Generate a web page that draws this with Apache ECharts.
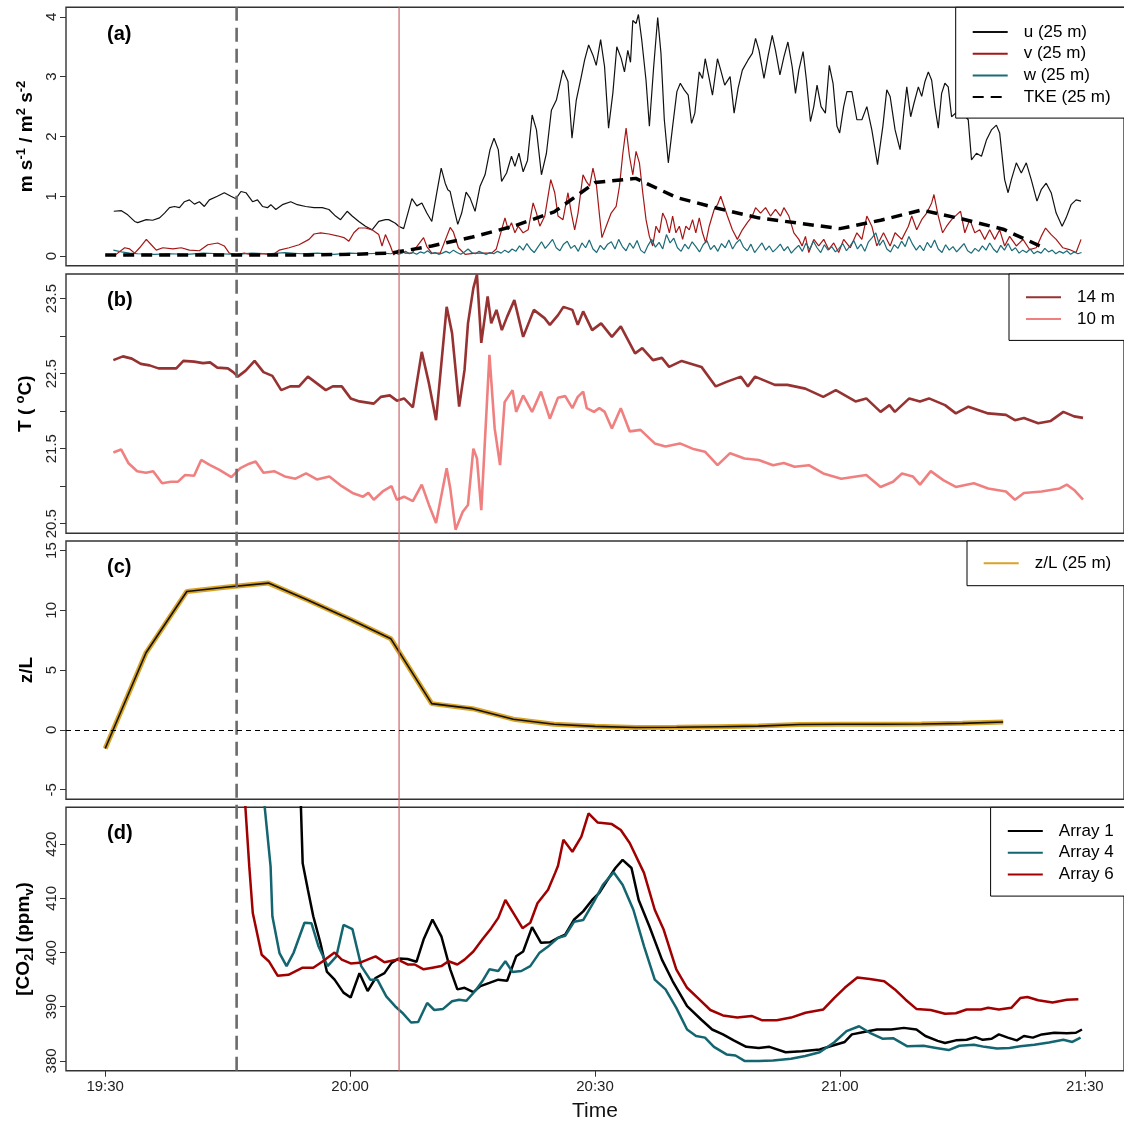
<!DOCTYPE html>
<html><head><meta charset="utf-8">
<script src="https://cdn.jsdelivr.net/npm/echarts@6/dist/echarts.min.js"></script>
<style>html,body{margin:0;padding:0;background:#fff}#c{width:1124px;height:1124px}</style>
</head><body><div id="c"></div>
<script>
// time axis: minutes after 19:00
const xTicks = [30, 60, 90, 120, 150];
const xTickLabels = ['19:30', '20:00', '20:30', '21:00', '21:30'];
const xRange = [25.2, 154.8];
const dashedMarker = 46.1;   // 19:46
const redMarker = 66.0;      // 20:06

// (a) wind components & TKE
const uData = [[31.05,0.75],[31.99,0.76],[32.76,0.69],[33.61,0.58],[33.98,0.56],[35.04,0.61],[35.81,0.60],[36.66,0.64],[37.27,0.72],[37.88,0.81],[38.49,0.83],[39.1,0.81],[39.71,0.91],[40.32,0.94],[40.93,0.87],[41.54,0.91],[42.15,0.83],[42.76,0.94],[43.74,1.00],[44.59,1.06],[45.41,1.00],[46.02,0.96],[46.63,1.08],[47.24,1.06],[48.05,0.91],[48.66,0.94],[49.27,0.83],[49.88,0.81],[50.29,0.86],[50.9,0.78],[51.71,0.86],[52.73,0.91],[53.54,0.86],[54.56,0.83],[55.58,0.81],[56.59,0.81],[57.41,0.78],[58.22,0.67],[58.83,0.61],[59.64,0.75],[60.25,0.67],[61.07,0.58],[61.88,0.50],[62.69,0.44],[63.51,0.58],[64.33,0.61],[64.73,0.61],[65.55,0.55],
[65.95,0.50],[66.56,0.46],[67.57,0.96],[68.18,0.84],[68.79,0.89],[69.4,0.72],[70.01,0.58],[70.62,1.06],[71.16,1.47],[71.65,1.22],[71.97,1.11],[72.26,1.08],[72.66,0.83],[73.19,0.53],[73.67,0.72],[74.21,1.07],[74.7,0.97],[75.31,0.75],[75.92,1.17],[76.53,1.36],[77.14,1.78],[77.63,1.97],[78.15,1.78],[78.56,1.25],[79.17,1.39],[79.77,1.67],[80.19,1.50],[80.68,1.72],[81.2,1.41],[81.73,1.60],[82.3,2.36],[82.83,2.11],[83.44,1.36],[84.05,1.72],[84.66,2.44],[85.27,2.61],[86.08,3.11],[86.69,2.92],[87.18,1.97],[87.71,2.61],[88.32,3.00],[88.73,3.28],[89.22,3.53],[89.75,3.36],[90.15,3.19],[90.69,3.62],[91.17,3.17],[91.66,2.14],[92.19,2.73],[92.67,3.50],[93.2,3.31],[93.61,3.08],[94.02,3.44],[94.35,3.24],[94.63,3.94],[95.03,3.89],[95.32,4.04],[95.73,3.61],[96.25,2.94],[96.66,2.17],[97.19,3.17],[97.68,3.99],[98.08,3.39],[98.49,2.28],[98.98,1.56],[99.51,2.17],[100.03,2.75],[100.45,2.89],[100.93,2.78],[101.42,2.69],[101.83,2.22],[102.23,2.39],[102.77,3.08],[103.17,2.97],[103.5,3.30],[103.9,3.03],[104.39,2.69],[105.0,3.30],[105.4,3.11],[105.89,2.86],[106.55,3.00],[107.04,2.39],[107.53,2.81],[108.05,3.11],[108.75,3.28],[109.27,3.39],[109.67,3.64],[110.09,3.44],[110.7,2.97],[111.22,3.36],[111.71,3.69],[112.11,3.44],[112.65,3.03],[113.14,3.33],[113.63,3.58],[114.15,3.17],[114.56,2.72],[114.97,3.11],[115.49,3.42],[115.9,2.94],[116.39,2.25],[116.8,2.50],[117.2,2.86],[117.69,2.50],[118.22,2.39],[118.7,3.19],[119.16,2.89],[119.64,2.17],[119.97,2.06],[120.46,2.50],[120.86,2.75],[121.47,2.75],[122.08,2.28],[122.69,2.28],[123.3,2.50],[123.91,2.11],[124.61,1.53],[125.26,2.17],[125.74,2.78],[126.15,2.67],[126.76,2.11],[127.37,1.78],[127.78,2.33],[128.19,2.83],[128.67,2.33],[129.08,2.56],[129.61,2.83],[130.02,2.67],[130.42,2.92],[130.83,3.08],[131.24,2.94],[131.64,2.50],[132.05,2.14],[132.46,2.72],[132.86,2.89],[133.27,2.83],[133.68,2.33],[134.65,2.45],[135.72,2.28],[136.12,1.61],[136.73,1.72],[137.34,1.67],[137.95,1.94],[138.56,2.11],[139.17,2.19],[139.57,2.06],[140.18,1.28],[140.6,1.06],[141.0,1.28],[141.61,1.56],[142.22,1.39],[142.83,1.56],[143.44,1.28],[144.14,0.92],[144.66,1.11],[145.27,1.22],[145.88,1.06],[146.49,0.72],[147.22,0.50],[147.71,0.64],[148.32,0.86],[148.93,0.94],[149.54,0.92]];
const vData = [[31.05,0.0],[32.39,0.14],[33.0,0.12],[33.61,0.05],[34.22,0.14],[35.04,0.28],[35.65,0.19],[36.26,0.10],[37.07,0.14],[38.29,0.12],[39.31,0.14],[40.32,0.10],[41.54,0.09],[42.56,0.19],[43.78,0.22],[44.59,0.17],[45.2,0.05],[46.02,0.02],[47.03,0.05],[48.05,0.02],[49.27,0.04],[50.49,0.02],[51.31,0.10],[52.53,0.14],[53.75,0.19],[54.97,0.28],[55.58,0.37],[56.39,0.39],[57.41,0.37],[58.42,0.34],[59.24,0.31],[59.85,0.25],[60.46,0.39],[61.07,0.47],[61.88,0.47],[62.69,0.44],[63.51,0.36],[63.91,0.17],[64.33,0.36],[64.94,0.17],[65.34,0.02],
[65.95,0.11],[66.77,0.05],[67.57,0.05],[69.0,0.31],[69.4,0.16],[70.01,0.05],[71.04,0.05],[72.26,0.48],[72.66,0.40],[73.27,0.14],[74.09,0.03],[75.31,0.05],[76.53,0.05],[77.34,0.05],[77.91,0.12],[78.56,0.44],[78.97,0.64],[79.37,0.44],[79.77,0.56],[80.19,0.39],[80.59,0.50],[81.2,0.39],[81.81,0.44],[82.42,0.89],[82.83,0.72],[83.24,0.50],[83.85,0.67],[84.58,1.28],[85.07,1.06],[85.47,0.67],[86.08,0.61],[86.69,1.06],[87.1,0.72],[87.51,0.44],[87.92,0.72],[88.53,1.36],[88.93,1.25],[89.34,1.17],[89.75,1.47],[90.15,1.22],[90.56,0.67],[90.85,0.31],[91.37,0.50],[91.98,0.72],[92.59,0.83],[93.0,1.17],[93.41,1.72],[93.81,2.14],[94.22,1.67],[94.63,1.36],[95.03,1.75],[95.44,1.56],[95.85,1.06],[96.25,0.61],[96.66,0.33],[97.07,0.17],[97.47,0.50],[97.89,0.39],[98.29,0.72],[98.69,0.61],[99.11,0.39],[99.51,0.67],[99.91,0.39],[100.33,0.50],[100.73,0.28],[101.13,0.50],[101.55,0.44],[101.95,0.61],[102.35,0.39],[102.77,0.64],[103.17,0.39],[103.57,0.22],[103.99,0.50],[104.6,0.78],[105.0,0.86],[105.4,1.00],[105.82,0.83],[106.22,0.67],[106.83,0.44],[107.44,0.28],[108.05,0.44],[108.66,0.56],[109.27,0.67],[109.67,0.81],[110.28,0.72],[110.89,0.81],[111.5,0.67],[112.11,0.78],[112.72,0.67],[113.14,0.81],[113.75,0.67],[114.36,0.39],[114.97,0.28],[115.37,0.17],[115.78,0.33],[116.19,0.06],[116.8,0.28],[117.41,0.17],[118.02,0.28],[118.63,0.11],[119.24,0.22],[119.85,0.06],[120.46,0.28],[121.27,0.14],[122.08,0.39],[122.69,0.28],[123.3,0.67],[123.91,0.50],[124.52,0.17],[125.34,0.39],[126.15,0.17],[126.76,0.39],[127.58,0.28],[128.39,0.50],[128.8,0.67],[129.41,0.44],[130.02,0.61],[130.63,0.72],[131.24,0.89],[131.52,1.03],[132.05,0.67],[132.58,0.39],[133.07,0.50],[133.68,0.61],[134.29,0.69],[134.78,0.75],[135.3,0.39],[135.91,0.61],[136.52,0.39],[137.13,0.44],[137.74,0.28],[138.35,0.44],[138.96,0.28],[139.57,0.44],[140.18,0.17],[140.79,0.33],[141.61,0.17],[142.43,0.28],[143.23,0.11],[144.05,0.14],[144.66,0.33],[145.19,0.47],[145.88,0.36],[146.49,0.28],[147.31,0.14],[148.11,0.11],[148.93,0.06],[149.54,0.28]];
const wData = [[31.0,0.10],[32,0.07],[33,0.05],[34,0.04],[36,0.03],[38,0.04],[40,0.03],[42,0.05],[44,0.04],[46,0.03],[48,0.05],[50,0.04],[52,0.06],[54,0.04],[56,0.05],[58,0.03],[60,0.05],[62,0.04],[64,0.05],
[65.0,0.04],[65.45,0.06],[65.9,0.03],[66.35,0.05],[66.8,0.08],[67.25,0.04],[67.7,0.06],[68.15,0.03],[68.6,0.07],[69.05,0.05],[69.5,0.09],[69.95,0.04],[70.4,0.06],[70.85,0.03],[71.3,0.05],[71.75,0.08],[72.2,0.05],[72.65,0.10],[73.1,0.06],[73.55,0.03],[74.0,0.07],[74.45,0.12],[74.9,0.06],[75.35,0.04],[75.8,0.08],[76.25,0.05],[76.7,0.03],[77.15,0.06],[77.6,0.04],[78.05,0.08],[78.5,0.05],[78.95,0.10],[79.4,0.06],[79.85,0.12],[80.3,0.08],[80.75,0.17],[81.2,0.10],[81.65,0.21],[82.1,0.12],[82.55,0.06],[83.0,0.15],[83.45,0.24],[83.9,0.13],[84.35,0.20],[84.8,0.28],[85.25,0.14],[85.7,0.09],[86.15,0.20],[86.6,0.25],[87.05,0.13],[87.5,0.18],[87.95,0.08],[88.4,0.22],[88.85,0.14],[89.3,0.27],[89.75,0.12],[90.2,0.06],[90.65,0.18],[91.1,0.11],[91.55,0.20],[92.0,0.24],[92.45,0.12],[92.9,0.28],[93.35,0.16],[93.8,0.09],[94.25,0.22],[94.7,0.13],[95.15,0.26],[95.6,0.10],[96.05,0.05],[96.5,0.18],[96.95,0.28],[97.4,0.15],[97.85,0.23],[98.3,0.12],[98.75,0.36],[99.2,0.22],[99.65,0.30],[100.1,0.14],[100.55,0.08],[101.0,0.20],[101.45,0.12],[101.9,0.24],[102.35,0.16],[102.8,0.07],[103.25,0.19],[103.7,0.26],[104.15,0.11],[104.6,0.18],[105.05,0.08],[105.5,0.21],[105.95,0.14],[106.4,0.27],[106.85,0.12],[107.3,0.22],[107.75,0.28],[108.2,0.15],[108.65,0.09],[109.1,0.20],[109.55,0.06],[110.0,0.14],[110.45,0.22],[110.9,0.10],[111.35,0.17],[111.8,0.07],[112.25,0.13],[112.7,0.20],[113.15,0.09],[113.6,0.16],[114.05,0.05],[114.5,0.12],[114.95,0.18],[115.4,0.08],[115.85,0.22],[116.3,0.11],[116.75,0.25],[117.2,0.14],[117.65,0.06],[118.1,0.19],[118.55,0.10],[119.0,0.16],[119.45,0.07],[119.9,0.13],[120.35,0.21],[120.8,0.09],[121.25,0.17],[121.7,0.26],[122.15,0.12],[122.6,0.20],[123.05,0.08],[123.5,0.24],[123.95,0.31],[124.4,0.39],[124.85,0.18],[125.3,0.27],[125.75,0.12],[126.2,0.07],[126.65,0.19],[127.1,0.13],[127.55,0.25],[128.0,0.16],[128.45,0.33],[128.9,0.20],[129.35,0.10],[129.8,0.18],[130.25,0.09],[130.7,0.23],[131.15,0.14],[131.6,0.27],[132.05,0.12],[132.5,0.06],[132.95,0.19],[133.4,0.10],[133.85,0.16],[134.3,0.07],[134.75,0.14],[135.2,0.21],[135.65,0.09],[136.1,0.05],[136.55,0.13],[137.0,0.08],[137.45,0.17],[137.9,0.10],[138.35,0.22],[138.8,0.12],[139.25,0.06],[139.7,0.18],[140.15,0.10],[140.6,0.21],[141.05,0.09],[141.5,0.14],[141.95,0.05],[142.4,0.10],[142.85,0.06],[143.3,0.12],[143.75,0.04],[144.2,0.08],[144.65,0.05],[145.1,0.13],[145.55,0.07],[146.0,0.10],[146.45,0.04],[146.9,0.08],[147.35,0.05],[147.8,0.09],[148.25,0.03],[148.7,0.07],[149.15,0.04],[149.6,0.06]];
const tkeData = [[30,0.02],[35,0.02],[40,0.02],[45,0.02],[50,0.02],[55,0.02],[60,0.03],[65,0.05],[70,0.17],[75,0.32],[80,0.5],[85,0.74],[90,1.23],[95,1.3],[100,0.98],[105,0.8],[110,0.64],[115,0.55],[120,0.46],[125,0.6],[130,0.77],[135,0.62],[140,0.45],[145,0.14]];

// (b) temperature
const t14Data = [[31.0,22.68],[32.17,22.73],[33.26,22.70],[34.36,22.63],[35.44,22.61],[36.53,22.57],[37.63,22.57],[38.71,22.57],[39.58,22.67],[40.89,22.66],[41.98,22.64],[42.85,22.65],[43.73,22.58],[45.03,22.57],[45.68,22.52],[46.25,22.46],[47.21,22.54],[48.3,22.67],[49.39,22.52],[50.48,22.47],[51.56,22.28],[52.66,22.33],[53.75,22.33],[54.83,22.46],[55.93,22.37],[57.02,22.28],[57.88,22.33],[58.98,22.33],[60.07,22.17],[61.15,22.13],[62.9,22.10],[63.77,22.19],[64.86,22.21],[65.73,22.14],[66.61,22.17],[67.69,22.05],[68.78,22.79],[69.66,22.37],[70.53,21.88],[71.83,23.39],[72.49,23.04],[73.36,22.06],[74.02,22.55],[74.44,23.17],[75.1,23.64],[75.54,23.82],[76.07,22.91],[76.85,23.53],[77.29,23.17],[77.93,23.35],[78.59,23.08],[79.24,23.26],[80.12,23.48],[81.2,22.99],[82.51,23.35],[83.82,23.24],[84.47,23.15],[85.47,23.28],[86.13,23.39],[87.23,23.35],[87.89,23.15],[88.55,23.33],[89.65,23.08],[90.75,23.17],[92.07,22.99],[93.16,23.13],[94.91,22.77],[95.79,22.84],[97.1,22.68],[98.2,22.71],[99.08,22.59],[100.62,22.67],[103.04,22.59],[104.79,22.33],[106.11,22.39],[107.87,22.46],[108.73,22.33],[109.61,22.46],[112.03,22.35],[113.57,22.35],[115.76,22.30],[117.96,22.19],[119.5,22.28],[121.91,22.13],[123.23,22.17],[124.98,21.99],[126.07,22.08],[126.73,21.99],[128.49,22.17],[129.81,22.13],[130.91,22.17],[132.88,22.08],[134.2,21.97],[135.74,22.06],[138.16,21.97],[140.34,21.95],[141.44,21.88],[142.54,21.91],[144.29,21.84],[145.83,21.87],[147.37,21.99],[148.69,21.93],[149.78,21.91]];
const t10Data = [[31.0,21.45],[31.95,21.49],[32.83,21.31],[33.92,21.20],[35.0,21.18],[35.88,21.20],[36.97,21.04],[38.05,21.06],[38.93,21.06],[39.8,21.15],[40.89,21.14],[41.76,21.35],[42.85,21.28],[43.94,21.22],[45.46,21.12],[46.56,21.24],[47.65,21.30],[48.43,21.33],[49.39,21.18],[50.7,21.20],[52.0,21.13],[53.31,21.10],[54.61,21.17],[55.93,21.09],[57.46,21.13],[58.98,21.00],[60.29,20.91],[61.59,20.86],[62.24,20.91],[62.9,20.82],[63.99,20.93],[65.08,21.00],[65.73,20.82],[66.61,20.86],[67.69,20.80],[68.78,21.02],[69.66,20.75],[70.53,20.51],[71.83,21.24],[72.27,20.97],[72.92,20.42],[73.8,20.66],[74.44,20.75],[75.1,21.50],[75.54,21.37],[76.07,20.68],[77.07,22.75],[77.71,21.77],[78.37,21.28],[78.93,22.12],[79.9,22.28],[80.34,21.99],[81.2,22.21],[82.29,21.99],[83.39,22.26],[84.47,21.90],[85.47,22.18],[86.35,22.20],[87.23,22.04],[87.89,22.19],[88.55,22.26],[88.99,22.04],[89.87,21.99],[90.53,22.04],[91.19,21.99],[92.07,21.77],[93.16,22.04],[94.26,21.73],[95.57,21.75],[97.32,21.57],[98.64,21.53],[100.4,21.57],[101.94,21.50],[103.47,21.46],[105.01,21.28],[106.55,21.44],[108.31,21.37],[110.05,21.35],[111.81,21.28],[113.13,21.31],[114.45,21.26],[116.2,21.28],[117.96,21.17],[120.16,21.10],[123.23,21.15],[124.98,20.99],[126.51,21.06],[127.61,21.17],[128.93,21.13],[129.81,21.02],[131.13,21.20],[132.66,21.08],[134.2,20.99],[136.4,21.04],[138.16,20.97],[140.34,20.93],[141.44,20.82],[142.54,20.91],[144.72,20.93],[146.92,20.97],[147.79,21.02],[148.69,20.95],[149.78,20.82]];

// (c) stability
const zLData = [[30,-1.55],[35,6.45],[40,11.58],[45,11.95],[50,12.28],[55,10.8],[60,9.25],[65,7.62],[70,2.2],[75,1.78],[80,0.9],[85,0.48],[90,0.3],[95,0.2],[100,0.22],[105,0.27],[110,0.32],[115,0.45],[120,0.47],[125,0.48],[130,0.5],[135,0.55],[140,0.67]];

// (d) CO2
const a1Data = [[53.6,445],[54.19,416.5],[54.83,411.6],[55.49,406.7],[56.36,401.8],[57.15,396.5],[58.1,395.0],[59.19,392.6],[60.07,391.7],[61.15,396.2],[62.15,392.9],[63.12,395.3],[64.21,396.2],[65.08,398.1],[65.95,398.9],[67.04,398.8],[68.13,398.3],[69.0,402.4],[70.09,406.1],[71.18,403.0],[72.27,396.9],[73.14,393.2],[74.02,393.5],[75.1,392.7],[75.97,393.8],[77.07,394.4],[78.15,395.0],[79.24,394.8],[80.34,399.3],[81.2,400.2],[82.29,404.7],[83.39,401.8],[84.47,401.9],[85.47,402.7],[86.35,403.3],[87.45,406.1],[88.55,407.6],[89.65,409.7],[90.53,411.0],[91.41,413.1],[92.5,415.6],[93.38,417.1],[94.47,415.6],[95.35,409.7],[96.67,404.8],[98.2,398.7],[99.52,394.7],[101.28,390.1],[103.03,387.6],[104.35,385.8],[105.67,384.9],[106.99,383.8],[108.53,382.6],[110.05,382.4],[111.37,382.6],[113.35,381.6],[115.32,381.8],[117.52,382.1],[118.84,382.7],[120.59,383.5],[121.47,384.9],[122.79,385.3],[124.54,385.8],[126.29,385.8],[127.83,386.1],[129.37,385.8],[130.47,384.6],[131.98,383.7],[132.88,383.3],[134.2,383.8],[135.52,383.9],[136.62,384.4],[137.5,383.9],[138.59,384.1],[139.47,384.9],[140.57,384.3],[141.67,383.8],[142.54,384.6],[143.63,384.3],[144.73,384.9],[146.27,385.2],[147.81,385.1],[148.91,385.2],[149.65,385.8]];
const a4Data = [[49.2,432],[50.26,415.9],[50.48,406.7],[51.35,399.9],[52.22,397.5],[53.09,400.0],[54.41,405.5],[55.27,405.4],[56.14,401.1],[57.24,397.5],[58.32,399.3],[59.19,405.1],[60.29,404.3],[61.37,397.5],[62.46,395.0],[63.34,395.0],[64.43,391.9],[65.51,390.1],[66.39,388.9],[67.47,387.1],[68.34,387.2],[69.44,390.7],[70.31,389.4],[71.39,389.6],[72.49,391.0],[73.36,391.3],[74.23,391.1],[75.32,392.9],[76.19,394.7],[77.07,396.9],[78.15,396.6],[79.02,398.4],[79.9,396.4],[80.98,396.6],[82.07,397.5],[83.17,399.9],[84.25,401.1],[85.47,402.7],[86.35,403.1],[87.45,405.7],[88.55,406.0],[89.87,409.4],[90.97,412.5],[92.28,414.8],[93.38,412.5],[94.7,407.9],[96.02,401.1],[97.32,395.0],[98.64,393.2],[99.96,389.8],[101.28,385.8],[102.38,384.6],[103.47,384.3],[104.57,382.6],[106.11,381.2],[107.21,381.0],[108.31,380.0],[110.05,380.0],[111.81,380.1],[114.01,380.4],[115.76,380.9],[117.52,381.6],[119.28,383.4],[120.81,385.5],[122.35,386.4],[123.67,385.2],[125.21,384.1],[126.51,384.2],[128.27,382.7],[130.25,382.8],[131.79,382.4],[133.32,382.0],[134.64,382.8],[136.4,383.0],[137.72,382.6],[139.24,382.3],[140.78,382.4],[142.09,382.7],[143.81,383.0],[145.61,383.4],[147.37,383.9],[148.47,383.5],[149.48,384.3]];
const a6Data = [[46.6,440],[47.65,415.9],[48.08,407.3],[49.17,399.6],[50.04,398.4],[51.14,395.7],[52.44,395.9],[54.19,397.2],[55.49,397.2],[56.58,398.3],[58.1,400.0],[58.98,398.7],[60.07,398.0],[61.15,398.1],[63.12,399.3],[64.21,398.2],[65.86,398.7],[67.04,397.8],[67.92,397.8],[69.0,396.9],[70.09,397.2],[71.18,397.5],[72.05,398.4],[73.14,397.8],[74.02,398.7],[75.1,400.2],[76.19,402.4],[77.29,404.5],[78.15,406.4],[79.02,409.7],[80.12,407.0],[81.12,404.5],[82.07,405.5],[82.95,409.1],[84.25,411.6],[85.12,414.7],[85.47,416.0],[86.13,420.8],[87.23,418.6],[88.33,421.4],[89.21,425.7],[90.31,424.0],[92.06,423.7],[93.16,422.6],[94.25,420.2],[96.0,414.7],[97.32,407.9],[98.42,404.2],[99.96,396.9],[101.28,393.5],[102.81,391.3],[104.13,389.4],[105.67,388.4],[107.43,388.0],[109.18,388.3],[110.5,387.5],[112.26,387.5],[114.02,388.0],[115.78,388.9],[117.97,389.5],[119.29,391.6],[120.59,393.5],[122.13,395.4],[123.67,395.1],[125.43,394.7],[126.73,393.2],[128.05,391.3],[129.37,389.6],[131.12,389.4],[132.88,388.7],[134.2,388.8],[135.52,389.5],[137.28,389.5],[138.16,389.8],[139.47,389.5],[141.0,389.8],[142.09,391.6],[142.97,391.8],[144.29,391.2],[146.05,390.8],[147.81,391.3],[149.21,391.4]];

const FONT = "'Liberation Sans', Arial, sans-serif";
const L = 66, W = 1062;
const grids = [
  {top: 7.3, height: 258.4},
  {top: 274, height: 259.3},
  {top: 541, height: 258.3},
  {top: 807.3, height: 263.4}
];

const gridOpt = grids.map(g => ({left: L, width: W, top: g.top, height: g.height, show: true,
  borderColor: '#333', borderWidth: 1.4, backgroundColor: 'transparent', containLabel: false}));
gridOpt.push({left: L, width: W, top: 7.3, height: 1063.4, show: false});

const xAxes = [0,1,2,3,4].map(i => {
  const base = {type: 'value', gridIndex: i, min: xRange[0], max: xRange[1], splitLine: {show: false},
    axisLine: {show: false}, axisTick: {show: false}, axisLabel: {show: false}};
  if (i === 3) {
    base.axisTick = {show: true, length: 6, customValues: xTicks, lineStyle: {color: '#333', width: 1}};
    base.axisLabel = {show: true, customValues: xTicks, margin: 9, fontSize: 15, color: '#222', fontFamily: FONT,
      formatter: v => xTickLabels[xTicks.indexOf(Math.round(v))] || ''};
    base.name = 'Time'; base.nameLocation = 'middle'; base.nameGap = 30;
    base.nameTextStyle = {fontSize: 21, color: '#111', fontFamily: FONT};
  }
  return base;
});

const rich = {
  b: {fontSize: 19, fontWeight: 'bold', color: '#000', fontFamily: FONT, lineHeight: 24},
  sup: {fontSize: 13, fontWeight: 'bold', color: '#000', fontFamily: FONT, lineHeight: 13, verticalAlign: 'top'},
  sub: {fontSize: 13, fontWeight: 'bold', color: '#000', fontFamily: FONT, lineHeight: 13, verticalAlign: 'bottom'}
};
function yAxis(i, min, max, ticks, labels, name, gap, fmt) {
  return {type: 'value', gridIndex: i, min: min, max: max, splitLine: {show: false},
    axisLine: {show: false},
    axisTick: {show: true, length: 6, customValues: ticks, lineStyle: {color: '#333', width: 1}},
    axisLabel: {show: true, customValues: labels, rotate: 90, margin: 7, fontSize: 15, color: '#222', fontFamily: FONT,
      formatter: fmt || (v => String(Math.round(v)))},
    name: name, nameLocation: 'middle', nameRotate: 90, nameGap: gap,
    nameTextStyle: {rich: rich, fontSize: 19, fontWeight: 'bold', fontFamily: FONT}
  };
}
const aTicks = [0,1,2,3,4];
const bTicks = [20.5,21,21.5,22,22.5,23,23.5];
const bLabels = [20.5,21.5,22.5,23.5];
const cTicks = [-5,0,5,10,15];
const dTicks = [380,390,400,410,420];

const yAxes = [
  yAxis(0, -0.16, 4.16, aTicks, aTicks, '{b|m s}{sup|-1}{b| / m}{sup|2}{b| s}{sup|-2}', 25),
  yAxis(1, 20.372, 23.828, bTicks, bLabels, '{b|T ( }{sup|o}{b|C)}', 28, v => v.toFixed(1)),
  yAxis(2, -5.8, 15.8, cTicks, cTicks, '{b|z/L}', 25),
  yAxis(3, 378.2, 426.8, dTicks, dTicks, '{b|[CO}{sub|2}{b|] (ppm}{sub|v}{b|)}', 29),
  {type: 'value', gridIndex: 4, min: 0, max: 1, show: false}
];

function line(name, data, xi, color, width, extra) {
  return Object.assign({type: 'line', name: name, data: data, xAxisIndex: xi, yAxisIndex: xi,
    symbol: 'none', showSymbol: false, silent: true, animation: false, clip: true,
    lineStyle: {color: color, width: width}, itemStyle: {color: color}}, extra || {});
}

const series = [
  line('u (25 m)', uData, 0, '#111111', 1.2),
  line('v (25 m)', vData, 0, '#A51616', 1.2),
  line('w (25 m)', wData, 0, '#1B6C78', 1.2),
  line('TKE (25 m)', tkeData, 0, '#000000', 3.5, {lineStyle: {color: '#000', width: 3.5, type: [11, 7]}}),
  line('14 m', t14Data, 1, '#963232', 2.6),
  line('10 m', t10Data, 1, '#F08080', 2.6),
  line('z/L (25 m)', zLData, 2, '#D9A326', 5),
  line('zL core', zLData, 2, '#111111', 1.6, {markLine: {silent: true, symbol: 'none', animation: false,
    label: {show: false}, lineStyle: {color: '#000', width: 1.2, type: [5, 4]}, data: [{yAxis: 0}]}}),
  line('Array 1', a1Data, 3, '#000000', 2.5),
  line('Array 4', a4Data, 3, '#136570', 2.5),
  line('Array 6', a6Data, 3, '#A00000', 2.5),
  line('marker dashed', [[dashedMarker, 0], [dashedMarker, 1]], 4, '#6b6b6b', 2.6, {lineStyle: {color: '#6b6b6b', width: 2.6, type: [14, 7]}, z: 3}),
  line('marker red', [[redMarker, 0], [redMarker, 1]], 4, '#CC6666', 1.2, {z: 3})
];

function legend(names, left, top, pad) {
  return {data: names, orient: 'vertical', left: left, top: top, padding: pad, itemWidth: 35, itemHeight: 14,
    itemGap: 4.7, borderColor: '#000', borderWidth: 1, borderRadius: 0, backgroundColor: '#fff',
    selectedMode: false, z: 10,
    itemStyle: {opacity: 0},
    textStyle: {fontSize: 17, lineHeight: 17, color: '#000', fontFamily: FONT, padding: [0, 0, 0, 11]}};
}
const legends = [
  legend(['u (25 m)', 'v (25 m)', 'w (25 m)', 'TKE (25 m)'], 955.7, 7.3, [16.2, 20, 12.5, 16]),
  legend(['14 m', '10 m'], 1009, 274, [14.8, 20, 12.9, 16]),
  legend(['z/L (25 m)'], 967, 541, [13.8, 20, 13.9, 15.7]),
  legend(['Array 1', 'Array 4', 'Array 6'], 990.6, 807.3, [15.2, 20, 13.2, 16.2])
];

const panelLabels = ['(a)', '(b)', '(c)', '(d)'];
const panelTops = [24, 290, 557, 823];
const titles = panelLabels.map((t, i) => ({text: t, left: 107, top: panelTops[i], padding: 0,
  textStyle: {fontSize: 20, fontWeight: 'bold', color: '#000', fontFamily: FONT}}));

const chart = echarts.init(document.getElementById('c'), null, {renderer: 'canvas'});
chart.setOption({
  animation: false,
  backgroundColor: '#fff',
  title: titles,
  grid: gridOpt,
  xAxis: xAxes,
  yAxis: yAxes,
  legend: legends,
  series: series
});
</script></body></html>
